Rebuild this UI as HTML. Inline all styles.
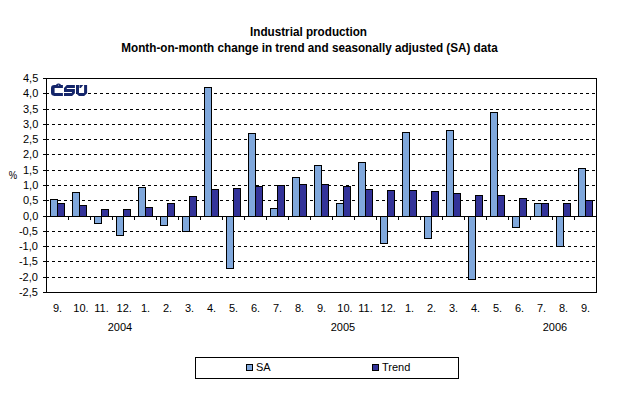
<!DOCTYPE html>
<html><head><meta charset="utf-8"><style>
html,body{margin:0;padding:0;background:#fff;width:618px;height:397px;overflow:hidden}
svg{position:absolute;left:0;top:0}
text{font-family:"Liberation Sans",sans-serif;font-size:11px;fill:#000}
.t{font-weight:bold;font-size:12.45px}
</style></head><body>
<svg width="618" height="397" viewBox="0 0 618 397">
<rect x="0" y="0" width="618" height="397" fill="#fff"/>
<text class="t" transform="translate(308.5 36) scale(0.94 1)" text-anchor="middle">Industrial production</text>
<text class="t" transform="translate(309.5 52) scale(0.94 1)" text-anchor="middle">Month-on-month change in trend and seasonally adjusted (SA) data</text>
<g shape-rendering="crispEdges">
<line x1="46" y1="93.5" x2="596" y2="93.5" stroke="#000" stroke-dasharray="3 3"/>
<line x1="46" y1="109.5" x2="596" y2="109.5" stroke="#000" stroke-dasharray="3 3"/>
<line x1="46" y1="124.5" x2="596" y2="124.5" stroke="#000" stroke-dasharray="3 3"/>
<line x1="46" y1="139.5" x2="596" y2="139.5" stroke="#000" stroke-dasharray="3 3"/>
<line x1="46" y1="154.5" x2="596" y2="154.5" stroke="#000" stroke-dasharray="3 3"/>
<line x1="46" y1="170.5" x2="596" y2="170.5" stroke="#000" stroke-dasharray="3 3"/>
<line x1="46" y1="185.5" x2="596" y2="185.5" stroke="#000" stroke-dasharray="3 3"/>
<line x1="46" y1="200.5" x2="596" y2="200.5" stroke="#000" stroke-dasharray="3 3"/>
<line x1="46" y1="231.5" x2="596" y2="231.5" stroke="#000" stroke-dasharray="3 3"/>
<line x1="46" y1="246.5" x2="596" y2="246.5" stroke="#000" stroke-dasharray="3 3"/>
<line x1="46" y1="261.5" x2="596" y2="261.5" stroke="#000" stroke-dasharray="3 3"/>
<line x1="46" y1="277.5" x2="596" y2="277.5" stroke="#000" stroke-dasharray="3 3"/>
<rect x="50.5" y="199.5" width="7" height="17" fill="#80a8dc" stroke="#000"/>
<rect x="57.5" y="203.5" width="7" height="13" fill="#333399" stroke="#000"/>
<rect x="72.5" y="192.5" width="7" height="24" fill="#80a8dc" stroke="#000"/>
<rect x="79.5" y="205.5" width="7" height="11" fill="#333399" stroke="#000"/>
<rect x="94.5" y="216.5" width="7" height="7" fill="#80a8dc" stroke="#000"/>
<rect x="101.5" y="209.5" width="7" height="7" fill="#333399" stroke="#000"/>
<rect x="116.5" y="216.5" width="7" height="19" fill="#80a8dc" stroke="#000"/>
<rect x="123.5" y="209.5" width="7" height="7" fill="#333399" stroke="#000"/>
<rect x="138.5" y="187.5" width="7" height="29" fill="#80a8dc" stroke="#000"/>
<rect x="145.5" y="207.5" width="7" height="9" fill="#333399" stroke="#000"/>
<rect x="160.5" y="216.5" width="7" height="9" fill="#80a8dc" stroke="#000"/>
<rect x="167.5" y="203.5" width="7" height="13" fill="#333399" stroke="#000"/>
<rect x="182.5" y="216.5" width="7" height="15" fill="#80a8dc" stroke="#000"/>
<rect x="189.5" y="196.5" width="7" height="20" fill="#333399" stroke="#000"/>
<rect x="204.5" y="87.5" width="7" height="129" fill="#80a8dc" stroke="#000"/>
<rect x="211.5" y="189.5" width="7" height="27" fill="#333399" stroke="#000"/>
<rect x="226.5" y="216.5" width="7" height="52" fill="#80a8dc" stroke="#000"/>
<rect x="233.5" y="188.5" width="7" height="28" fill="#333399" stroke="#000"/>
<rect x="248.5" y="133.5" width="7" height="83" fill="#80a8dc" stroke="#000"/>
<rect x="255.5" y="186.5" width="7" height="30" fill="#333399" stroke="#000"/>
<rect x="270.5" y="208.5" width="7" height="8" fill="#80a8dc" stroke="#000"/>
<rect x="277.5" y="185.5" width="7" height="31" fill="#333399" stroke="#000"/>
<rect x="292.5" y="177.5" width="7" height="39" fill="#80a8dc" stroke="#000"/>
<rect x="299.5" y="184.5" width="7" height="32" fill="#333399" stroke="#000"/>
<rect x="314.5" y="165.5" width="7" height="51" fill="#80a8dc" stroke="#000"/>
<rect x="321.5" y="184.5" width="7" height="32" fill="#333399" stroke="#000"/>
<rect x="336.5" y="203.5" width="7" height="13" fill="#80a8dc" stroke="#000"/>
<rect x="343.5" y="186.5" width="7" height="30" fill="#333399" stroke="#000"/>
<rect x="358.5" y="162.5" width="7" height="54" fill="#80a8dc" stroke="#000"/>
<rect x="365.5" y="189.5" width="7" height="27" fill="#333399" stroke="#000"/>
<rect x="380.5" y="216.5" width="7" height="27" fill="#80a8dc" stroke="#000"/>
<rect x="387.5" y="190.5" width="7" height="26" fill="#333399" stroke="#000"/>
<rect x="402.5" y="132.5" width="7" height="84" fill="#80a8dc" stroke="#000"/>
<rect x="409.5" y="190.5" width="7" height="26" fill="#333399" stroke="#000"/>
<rect x="424.5" y="216.5" width="7" height="22" fill="#80a8dc" stroke="#000"/>
<rect x="431.5" y="191.5" width="7" height="25" fill="#333399" stroke="#000"/>
<rect x="446.5" y="130.5" width="7" height="86" fill="#80a8dc" stroke="#000"/>
<rect x="453.5" y="193.5" width="7" height="23" fill="#333399" stroke="#000"/>
<rect x="468.5" y="216.5" width="7" height="63" fill="#80a8dc" stroke="#000"/>
<rect x="475.5" y="195.5" width="7" height="21" fill="#333399" stroke="#000"/>
<rect x="490.5" y="112.5" width="7" height="104" fill="#80a8dc" stroke="#000"/>
<rect x="497.5" y="195.5" width="7" height="21" fill="#333399" stroke="#000"/>
<rect x="512.5" y="216.5" width="7" height="11" fill="#80a8dc" stroke="#000"/>
<rect x="519.5" y="198.5" width="7" height="18" fill="#333399" stroke="#000"/>
<rect x="534.5" y="203.5" width="7" height="13" fill="#80a8dc" stroke="#000"/>
<rect x="541.5" y="203.5" width="7" height="13" fill="#333399" stroke="#000"/>
<rect x="556.5" y="216.5" width="7" height="30" fill="#80a8dc" stroke="#000"/>
<rect x="563.5" y="203.5" width="7" height="13" fill="#333399" stroke="#000"/>
<rect x="578.5" y="168.5" width="7" height="48" fill="#80a8dc" stroke="#000"/>
<rect x="585.5" y="200.5" width="7" height="16" fill="#333399" stroke="#000"/>
<rect x="46.5" y="78.5" width="550" height="214" fill="none" stroke="#000"/>
<line x1="46" y1="216.5" x2="596" y2="216.5" stroke="#000"/>
<line x1="43" y1="78.5" x2="46" y2="78.5" stroke="#000"/>
<line x1="43" y1="93.5" x2="46" y2="93.5" stroke="#000"/>
<line x1="43" y1="109.5" x2="46" y2="109.5" stroke="#000"/>
<line x1="43" y1="124.5" x2="46" y2="124.5" stroke="#000"/>
<line x1="43" y1="139.5" x2="46" y2="139.5" stroke="#000"/>
<line x1="43" y1="154.5" x2="46" y2="154.5" stroke="#000"/>
<line x1="43" y1="170.5" x2="46" y2="170.5" stroke="#000"/>
<line x1="43" y1="185.5" x2="46" y2="185.5" stroke="#000"/>
<line x1="43" y1="200.5" x2="46" y2="200.5" stroke="#000"/>
<line x1="43" y1="216.5" x2="46" y2="216.5" stroke="#000"/>
<line x1="43" y1="231.5" x2="46" y2="231.5" stroke="#000"/>
<line x1="43" y1="246.5" x2="46" y2="246.5" stroke="#000"/>
<line x1="43" y1="261.5" x2="46" y2="261.5" stroke="#000"/>
<line x1="43" y1="277.5" x2="46" y2="277.5" stroke="#000"/>
<line x1="43" y1="292.5" x2="46" y2="292.5" stroke="#000"/>
<line x1="68.5" y1="217" x2="68.5" y2="220" stroke="#000"/>
<line x1="90.5" y1="217" x2="90.5" y2="220" stroke="#000"/>
<line x1="112.5" y1="217" x2="112.5" y2="220" stroke="#000"/>
<line x1="134.5" y1="217" x2="134.5" y2="220" stroke="#000"/>
<line x1="156.5" y1="217" x2="156.5" y2="220" stroke="#000"/>
<line x1="178.5" y1="217" x2="178.5" y2="220" stroke="#000"/>
<line x1="200.5" y1="217" x2="200.5" y2="220" stroke="#000"/>
<line x1="222.5" y1="217" x2="222.5" y2="220" stroke="#000"/>
<line x1="244.5" y1="217" x2="244.5" y2="220" stroke="#000"/>
<line x1="266.5" y1="217" x2="266.5" y2="220" stroke="#000"/>
<line x1="288.5" y1="217" x2="288.5" y2="220" stroke="#000"/>
<line x1="310.5" y1="217" x2="310.5" y2="220" stroke="#000"/>
<line x1="332.5" y1="217" x2="332.5" y2="220" stroke="#000"/>
<line x1="354.5" y1="217" x2="354.5" y2="220" stroke="#000"/>
<line x1="376.5" y1="217" x2="376.5" y2="220" stroke="#000"/>
<line x1="398.5" y1="217" x2="398.5" y2="220" stroke="#000"/>
<line x1="420.5" y1="217" x2="420.5" y2="220" stroke="#000"/>
<line x1="442.5" y1="217" x2="442.5" y2="220" stroke="#000"/>
<line x1="464.5" y1="217" x2="464.5" y2="220" stroke="#000"/>
<line x1="486.5" y1="217" x2="486.5" y2="220" stroke="#000"/>
<line x1="508.5" y1="217" x2="508.5" y2="220" stroke="#000"/>
<line x1="530.5" y1="217" x2="530.5" y2="220" stroke="#000"/>
<line x1="552.5" y1="217" x2="552.5" y2="220" stroke="#000"/>
<line x1="574.5" y1="217" x2="574.5" y2="220" stroke="#000"/>
<rect x="195.5" y="357.5" width="263" height="21" fill="none" stroke="#000"/>
<rect x="246.5" y="364.5" width="6" height="6" fill="#80a8dc" stroke="#000"/>
<rect x="372.5" y="364.5" width="6" height="6" fill="#333399" stroke="#000"/>
</g>
<g fill="#14256a">
<path d="M54.3 85 H62.9 V88 H54.6 V92.9 H62.9 V95.9 H54.3 Q51 95.9 51 92.6 V88.3 Q51 85 54.3 85 Z"/>
<path d="M55.8 85.5 Q56.3 83.4 58.5 83.6 Q60.7 83.4 61.2 85.5 Z"/><ellipse cx="58.5" cy="85.2" rx="0.6" ry="0.7" fill="#8f9bc2"/>
<path d="M66.8 85 H74.9 V88 H66.8 V88.9 H74.9 V93.3 L72.1 95.9 H64 V92.9 H71.9 V92.1 H64 V88 Z"/>
<path d="M76 85 H79 V92.9 H84.1 V85 H87.1 V93.3 L84.1 95.9 H79 L76 93.3 Z"/>
<path d="M79.5 85 H83.3 L80.8 88 H79.5 Z"/>
</g>
<text x="38.3" y="82" text-anchor="end">4,5</text>
<text x="38.3" y="97" text-anchor="end">4,0</text>
<text x="38.3" y="113" text-anchor="end">3,5</text>
<text x="38.3" y="128" text-anchor="end">3,0</text>
<text x="38.3" y="143" text-anchor="end">2,5</text>
<text x="38.3" y="158" text-anchor="end">2,0</text>
<text x="38.3" y="174" text-anchor="end">1,5</text>
<text x="38.3" y="189" text-anchor="end">1,0</text>
<text x="38.3" y="204" text-anchor="end">0,5</text>
<text x="38.3" y="220" text-anchor="end">0,0</text>
<text x="37.9" y="235" text-anchor="end">-0,5</text>
<text x="37.9" y="250" text-anchor="end">-1,0</text>
<text x="37.9" y="265" text-anchor="end">-1,5</text>
<text x="37.9" y="281" text-anchor="end">-2,0</text>
<text x="37.9" y="296" text-anchor="end">-2,5</text>
<text transform="translate(8.8 178.8) scale(0.86 1.04)">%</text>
<text x="57.5" y="312" text-anchor="middle">9.</text>
<text x="81.0" y="312" text-anchor="middle">10.</text>
<text x="101.5" y="312" text-anchor="middle">11.</text>
<text x="124.2" y="312" text-anchor="middle">12.</text>
<text x="145.5" y="312" text-anchor="middle">1.</text>
<text x="167.5" y="312" text-anchor="middle">2.</text>
<text x="189.5" y="312" text-anchor="middle">3.</text>
<text x="211.5" y="312" text-anchor="middle">4.</text>
<text x="233.5" y="312" text-anchor="middle">5.</text>
<text x="255.5" y="312" text-anchor="middle">6.</text>
<text x="277.5" y="312" text-anchor="middle">7.</text>
<text x="299.5" y="312" text-anchor="middle">8.</text>
<text x="321.5" y="312" text-anchor="middle">9.</text>
<text x="345.0" y="312" text-anchor="middle">10.</text>
<text x="365.5" y="312" text-anchor="middle">11.</text>
<text x="388.2" y="312" text-anchor="middle">12.</text>
<text x="409.5" y="312" text-anchor="middle">1.</text>
<text x="431.5" y="312" text-anchor="middle">2.</text>
<text x="453.5" y="312" text-anchor="middle">3.</text>
<text x="475.5" y="312" text-anchor="middle">4.</text>
<text x="497.5" y="312" text-anchor="middle">5.</text>
<text x="519.5" y="312" text-anchor="middle">6.</text>
<text x="541.5" y="312" text-anchor="middle">7.</text>
<text x="563.5" y="312" text-anchor="middle">8.</text>
<text x="585.5" y="312" text-anchor="middle">9.</text>
<text x="120" y="331" text-anchor="middle">2004</text>
<text x="343" y="331" text-anchor="middle">2005</text>
<text x="555" y="331" text-anchor="middle">2006</text>
<text x="256" y="371">SA</text>
<text x="382" y="371">Trend</text>
</svg>
</body></html>
